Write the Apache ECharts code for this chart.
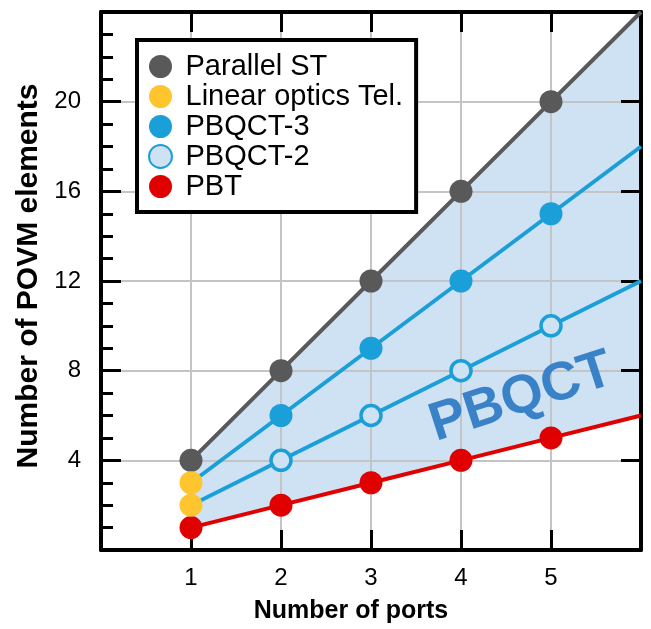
<!DOCTYPE html>
<html>
<head>
<meta charset="utf-8">
<script src="https://cdn.jsdelivr.net/npm/echarts@6/dist/echarts.min.js"></script>
<style>
  html, body { margin: 0; padding: 0; background: #fff; }
  #chart { width: 651px; height: 629px; }
</style>
</head>
<body>
<div id="chart"></div>
<script>
// number of ports and POVM element counts
const ports = [1, 2, 3, 4, 5, 6];
const parallelST = [4, 8, 12, 16, 20, 24];
const pbqct3 = [3, 6, 9, 12, 15, 18];
const pbqct2 = [2, 4, 6, 8, 10, 12];
const pbt = [1, 2, 3, 4, 5, 6];
// ports that carry a marker (lines run on to the plot edge)
const parallelSTMarks = [1, 2, 3, 4, 5];
const pbqct3Marks = [2, 3, 4, 5];
const pbqct2Marks = [2, 3, 4, 5];
const pbtMarks = [1, 2, 3, 4, 5];
// linear optics teleportation points
const linearX = [1, 1];
const linearY = [2, 3];

const FONT = 'Liberation Sans, Arial, Helvetica, sans-serif';
const GRAY = '#595959', BLUE = '#1A9FD8', RED = '#E00000', YELLOW = '#FFC52F', SHADE = '#CFE2F3';

function lineData(ys, marks) {
  return ports.map((x, i) => ({
    value: [x, ys[i]],
    symbol: marks.indexOf(x) >= 0 ? 'circle' : 'none'
  }));
}

const chart = echarts.init(document.getElementById('chart'), null, { renderer: 'canvas' });

const baseAxis = {
  type: 'value',
  axisLine: { show: true, onZero: false, lineStyle: { color: '#000', width: 4 } },
  axisTick: { show: true, inside: true, length: 20, lineStyle: { color: '#000', width: 3 } },
  splitLine: { show: false }
};

const option = {
  animation: false,
  textStyle: { fontFamily: FONT },
  grid: { left: 101, right: 10, top: 12, bottom: 69 },
  legend: {
    orient: 'vertical',
    left: 137,
    top: 40,
    padding: [12, 13, 11, 11],
    itemGap: 1,
    itemWidth: 40,
    itemHeight: 23,
    icon: 'circle',
    backgroundColor: '#fff',
    borderColor: '#000',
    borderWidth: 4,
    borderRadius: 0,
    selectedMode: false,
    textStyle: { fontSize: 29, lineHeight: 29, color: '#000', fontFamily: FONT },
    data: ['Parallel ST', 'Linear optics Tel.', 'PBQCT-3', 'PBQCT-2', 'PBT']
  },
  xAxis: [
    Object.assign({}, baseAxis, {
      position: 'bottom',
      min: 0, max: 6, interval: 1,
      splitLine: { show: true, lineStyle: { color: '#C4C4C4', width: 2 } },
      axisLabel: { fontSize: 24, color: '#000', margin: 16, showMinLabel: false, showMaxLabel: false },
      name: 'Number of ports',
      nameLocation: 'middle',
      nameGap: 49,
      nameTextStyle: { fontSize: 25, fontWeight: 'bold', color: '#000', padding: [0, 40, 0, 0] }
    }),
    Object.assign({}, baseAxis, {
      position: 'top',
      min: 0, max: 6, interval: 1,
      axisLabel: { show: false }
    })
  ],
  yAxis: [
    Object.assign({}, baseAxis, {
      position: 'left',
      min: 0, max: 24, interval: 4,
      minorTick: { show: true, splitNumber: 4, length: 12, lineStyle: { color: '#000', width: 3 } },
      splitLine: { show: true, lineStyle: { color: '#C4C4C4', width: 2 } },
      axisLabel: { fontSize: 24, color: '#000', margin: 20, showMinLabel: false, showMaxLabel: false },
      name: 'Number of POVM elements',
      nameLocation: 'middle',
      nameGap: 57,
      nameTextStyle: { fontSize: 30, fontWeight: 'bold', color: '#000', padding: [0, 0, 0, 10] }
    }),
    Object.assign({}, baseAxis, {
      position: 'right',
      min: 0, max: 24, interval: 4,
      axisLabel: { show: false }
    })
  ],
  series: [
    {
      // shaded PBQCT region between PBT and Parallel ST
      type: 'custom',
      z: -1,
      silent: true,
      data: [0],
      renderItem: function (params, api) {
        const pts = [];
        for (let i = 0; i < ports.length; i++) pts.push(api.coord([ports[i], parallelST[i]]));
        for (let i = ports.length - 1; i >= 0; i--) pts.push(api.coord([ports[i], pbt[i]]));
        return { type: 'polygon', shape: { points: pts }, style: { fill: SHADE } };
      }
    },
    {
      name: 'Parallel ST',
      type: 'line',
      data: lineData(parallelST, parallelSTMarks),
      symbolSize: 23,
      lineStyle: { color: GRAY, width: 4 },
      itemStyle: { color: GRAY },
      emphasis: { disabled: true },
      z: 3
    },
    {
      name: 'PBQCT-3',
      type: 'line',
      data: lineData(pbqct3, pbqct3Marks),
      symbolSize: 23,
      lineStyle: { color: BLUE, width: 4 },
      itemStyle: { color: BLUE },
      emphasis: { disabled: true },
      z: 3
    },
    {
      name: 'PBQCT-2',
      type: 'line',
      data: lineData(pbqct2, pbqct2Marks),
      symbolSize: 20,
      lineStyle: { color: BLUE, width: 4 },
      itemStyle: { color: SHADE, borderColor: BLUE, borderWidth: 3.5 },
      emphasis: { disabled: true },
      z: 3
    },
    {
      name: 'PBT',
      type: 'line',
      data: lineData(pbt, pbtMarks),
      symbolSize: 23,
      lineStyle: { color: RED, width: 4 },
      itemStyle: { color: RED },
      emphasis: { disabled: true },
      z: 3
    },
    {
      name: 'Linear optics Tel.',
      type: 'scatter',
      data: linearX.map((x, i) => [x, linearY[i]]),
      symbolSize: 23,
      itemStyle: { color: YELLOW, opacity: 1 },
      emphasis: { disabled: true },
      z: 5
    },
    {
      // in-plot label for the shaded region
      type: 'custom',
      z: 6,
      silent: true,
      data: [0],
      renderItem: function (params, api) {
        const p = api.coord([4.67, 6.8]);
        return {
          type: 'text',
          x: p[0], y: p[1],
          rotation: 18 * Math.PI / 180,
          style: {
            text: 'PBQCT',
            fill: '#3A82C8',
            font: 'bold 54px ' + FONT,
            align: 'center',
            verticalAlign: 'middle'
          }
        };
      }
    }
  ]
};

chart.setOption(option);
</script>
</body>
</html>
